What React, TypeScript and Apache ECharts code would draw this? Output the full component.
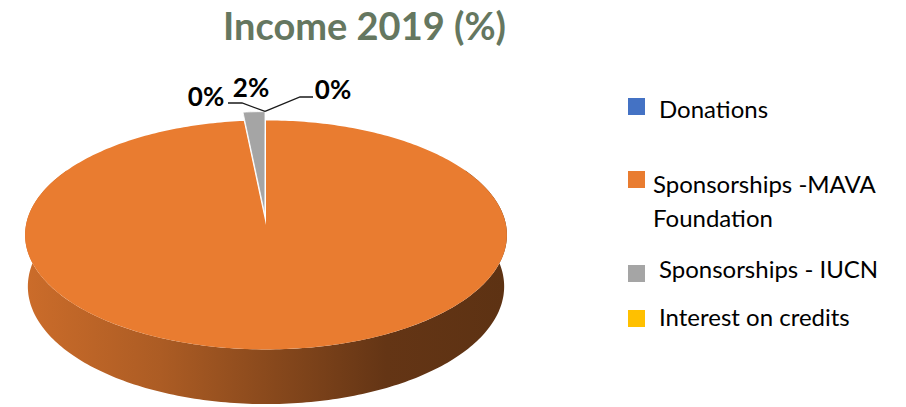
import React, { useEffect, useRef } from "react";
import * as echarts from "echarts";

// ---- data ----
const categories = ["Donations", "Sponsorships -MAVA Foundation", "Sponsorships - IUCN", "Interest on credits"];
const shares = [0, 98.4, 1.6, 0];
const sliceColors = ["#4472C4", "#E97C30", "#A5A5A5", "#FFC000"];
const labelShown = [true, false, true, true];
const chartTitle = "Income 2019 (%)";

// ---- layout (3D projection of the pie) ----
const CX = 266;
const CY = 225;
const R = 240;
const H = 59;
const DIST = 2440;
const SIN_A = 0.4736;
const COS_A = Math.sqrt(1 - SIN_A * SIN_A);
const explode = [0, 0, 22, 0];
const anchorLift = 9;
const labelCenters: (number[] | null)[] = [[206, 96], null, [251, 87], [333, 89]];
const leaderBefore: number[][][] = [[[228, 103], [242, 103]], [], [], []];
const leaderAfter: number[][][] = [[], [], [], [[300, 97], [313, 97]]];
const legendMarkers = [[628, 98], [628, 171], [628, 265], [628, 310]];
const legendTexts = [[659, 108], [653, 166], [659, 268], [659, 316]];

const FONT = "Lato, 'Open Sans', sans-serif";

const TOTAL = shares.reduce((a, b) => a + b, 0);
const startAngles = shares.map((_, i) => (shares.slice(0, i).reduce((a, b) => a + b, 0) / TOTAL) * 360);

function project(X: number, Y: number, Z: number): number[] {
  const yc = Y * COS_A + Z * SIN_A;
  const zc = Z * COS_A - Y * SIN_A;
  const f = DIST / (DIST + zc);
  return [CX + X * f, CY - yc * f];
}

function shade(hex: string, k: number): string {
  const n = parseInt(hex.slice(1), 16);
  const r = (n >> 16) & 255, g = (n >> 8) & 255, b = n & 255;
  return `rgb(${Math.round(r * k)},${Math.round(g * k)},${Math.round(b * k)})`;
}

function renderItem(params: any, api: any) {
  const i = params.dataIndex;
  const v = api.value(0) as number;
  const a0 = startAngles[i];
  const a1 = a0 + (v / TOTAL) * 360;
  const midDeg = (a0 + a1) / 2;
  const mid = (midDeg * Math.PI) / 180;
  const ex = explode[i];
  const ox = ex * Math.sin(mid);
  const oz = ex * Math.cos(mid);
  const P = (deg: number, r: number, y: number) => {
    const t = (deg * Math.PI) / 180;
    return project(ox + r * Math.sin(t), y, oz + r * Math.cos(t));
  };
  const color = sliceColors[i];
  const children: any[] = [];
  if (v > 0) {
    const n = Math.max(2, Math.ceil(a1 - a0) + 1);
    const top: number[][] = [];
    for (let k = 0; k < n; k++) top.push(P(a0 + ((a1 - a0) * k) / (n - 1), R, 0));
    const w0 = Math.max(a0, 60);
    const w1 = Math.min(a1, 300);
    if (w1 > w0) {
      const m = Math.max(2, Math.ceil(w1 - w0) + 1);
      const upper: number[][] = [];
      const lower: number[][] = [];
      for (let k = 0; k < m; k++) {
        const d = w0 + ((w1 - w0) * k) / (m - 1);
        upper.push(P(d, R, 0));
        lower.push(P(d, R, -H));
      }
      const grad = new echarts.graphic.LinearGradient(CX - R, 0, CX + R, 0, [
        { offset: 0, color: shade(color, 0.87) },
        { offset: 0.28, color: shade(color, 0.74) },
        { offset: 0.52, color: shade(color, 0.58) },
        { offset: 0.75, color: shade(color, 0.43) },
        { offset: 1, color: shade(color, 0.4) },
      ], true);
      children.push({
        type: "polygon",
        z2: 1,
        shape: { points: upper.concat(lower.reverse()) },
        style: { fill: grad, stroke: null },
      });
    }
    children.push({
      type: "polygon",
      z2: 10,
      shape: { points: [P(0, 0, 0)].concat(top) },
      style: { fill: color, stroke: i === 1 ? null : "#ffffff", lineWidth: 0.8 },
    });
  }
  const lc = labelCenters[i];
  if (labelShown[i] && lc) {
    const pct = Math.round((v / TOTAL) * 100) + "%";
    children.push({
      type: "text",
      z2: 20,
      x: lc[0],
      y: lc[1],
      style: {
        text: pct,
        fill: "#000",
        font: `bold 26px ${FONT}`,
        align: "center",
        verticalAlign: "middle",
        textAlign: "center",
        textVerticalAlign: "middle",
      },
    });
    const a = project(0, 0, R);
    const anchor = [a[0] - 1, a[1] - anchorLift];
    const pts = leaderBefore[i].length ? leaderBefore[i].concat([anchor]) : leaderAfter[i].length ? [anchor].concat(leaderAfter[i]) : [];
    if (pts.length) {
      children.push({
        type: "polyline",
        z2: 20,
        shape: { points: pts },
        style: { stroke: "#1a1a1a", lineWidth: 1.3, fill: null },
      });
    }
  }
  return { type: "group", children };
}

export default function App() {
  const ref = useRef<HTMLDivElement>(null);
  useEffect(() => {
    const chart = echarts.init(ref.current!, null, { renderer: "svg" });
    const legendGraphics: any[] = [];
    categories.forEach((name, i) => {
      legendGraphics.push({
        type: "rect",
        shape: { x: legendMarkers[i][0], y: legendMarkers[i][1], width: 17, height: 17 },
        style: { fill: sliceColors[i] },
      });
      legendGraphics.push({
        type: "text",
        x: legendTexts[i][0],
        y: legendTexts[i][1],
        style: {
          text: name.replace("MAVA ", "MAVA\n"),
          fill: "#000",
          font: `24px ${FONT}`,
          lineHeight: 34,
          textVerticalAlign: i === 1 ? "top" : "middle",
          verticalAlign: i === 1 ? "top" : "middle",
        },
      });
    });
    chart.setOption({
      animation: false,
      backgroundColor: "#ffffff",
      title: {
        text: chartTitle,
        left: 218,
        top: 1,
        textStyle: { fontFamily: FONT, fontWeight: "bold", fontSize: 38, color: "#657760" },
      },
      graphic: { elements: legendGraphics },
      series: [
        {
          type: "custom",
          coordinateSystem: "none",
          silent: true,
          data: shares.map((v, i) => ({ name: categories[i], value: v })),
          renderItem,
        },
      ],
    });
    return () => chart.dispose();
  }, []);
  return (
    <div
      ref={ref}
      style={{ position: "fixed", left: 0, top: 0, width: 906, height: 407, background: "#fff" }}
    />
  );
}
